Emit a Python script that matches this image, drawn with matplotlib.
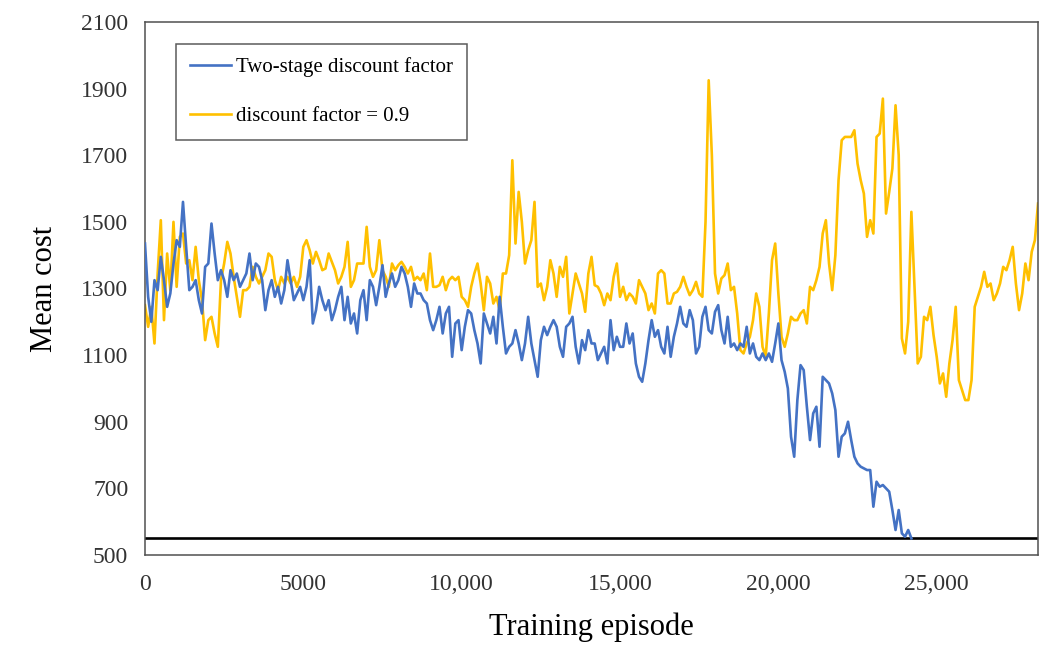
import numpy as np
import matplotlib
matplotlib.use("Agg")
import matplotlib.pyplot as plt

plt.rcParams['font.family'] = ['Liberation Serif', 'DejaVu Serif']

# sampled every 100 training episodes
step = 100
two_stage = [
    1435, 1275, 1200, 1325, 1295, 1395, 1325, 1245, 1285, 1375,
    1445, 1425, 1560, 1425, 1295, 1305, 1325, 1265, 1225, 1365,
    1375, 1495, 1405, 1325, 1355, 1325, 1275, 1355, 1325, 1345,
    1305, 1325, 1345, 1405, 1325, 1375, 1365, 1325, 1235, 1295,
    1325, 1275, 1305, 1255, 1295, 1385, 1325, 1265, 1285,
    1305, 1265, 1305, 1385, 1195, 1235, 1305, 1265, 1235, 1265,
    1205, 1235, 1275, 1305, 1205, 1275, 1195, 1225, 1165, 1265,
    1295, 1205, 1325, 1305, 1250, 1305, 1370, 1275, 1315, 1345,
    1305, 1325, 1365, 1345, 1305, 1245, 1315, 1285, 1285, 1265,
    1255, 1205, 1175, 1205, 1245, 1165, 1225, 1245,
    1095, 1195, 1205, 1115, 1185, 1235, 1225, 1175, 1135, 1075,
    1225, 1195, 1165, 1215, 1135, 1275, 1185, 1105, 1125, 1135,
    1175, 1135, 1085, 1135, 1215, 1135, 1085, 1035, 1145, 1185,
    1160, 1185, 1205, 1185, 1125, 1095, 1185, 1195, 1215, 1125,
    1075, 1145, 1115, 1175, 1135, 1135, 1085,
    1105, 1125, 1075, 1205, 1115, 1155, 1125, 1125, 1195, 1135,
    1165, 1075, 1035, 1020, 1075, 1145, 1205, 1155, 1175, 1125,
    1105, 1185, 1095, 1155, 1195, 1245, 1195, 1185, 1235, 1205,
    1105, 1125, 1215, 1245, 1175, 1165, 1230, 1250, 1175, 1135,
    1215, 1125, 1135, 1115, 1135, 1125, 1185,
    1105, 1135, 1095, 1085, 1105, 1085, 1105, 1080, 1135, 1195,
    1085, 1050, 1000, 855, 795, 965, 1070, 1055, 945, 845,
    925, 945, 825, 1035, 1025, 1015, 985, 935, 795, 855,
    865, 900, 845, 795, 775, 765, 760, 755, 755, 645,
    720, 705, 710, 700, 690, 635, 575, 635, 565, 555,
    575, 550,
]
gamma_09 = [
    1250, 1185, 1245, 1135, 1345, 1505, 1205, 1405, 1295, 1500,
    1305, 1455, 1465, 1375, 1385, 1325, 1425, 1325, 1265, 1145,
    1205, 1215, 1165, 1125, 1325, 1375, 1440, 1405, 1335, 1275,
    1215, 1295, 1295, 1305, 1365, 1335, 1315, 1335, 1355, 1405,
    1395, 1325, 1295, 1335, 1315, 1335, 1315, 1335, 1305,
    1335, 1425, 1445, 1415, 1375, 1410, 1385, 1355, 1360, 1405,
    1380, 1355, 1315, 1335, 1365, 1440, 1305, 1325, 1375, 1375,
    1375, 1485, 1365, 1335, 1355, 1445, 1355, 1335, 1305, 1375,
    1355, 1370, 1380, 1365, 1345, 1365, 1325, 1335, 1325, 1345,
    1295, 1405, 1305, 1305, 1310, 1335, 1295, 1325,
    1335, 1325, 1335, 1275, 1265, 1245, 1305, 1345, 1375, 1315,
    1235, 1335, 1315, 1255, 1275, 1235, 1345, 1345, 1400, 1685,
    1435, 1590, 1500, 1375, 1415, 1445, 1560, 1305, 1315, 1265,
    1305, 1385, 1345, 1275, 1365, 1335, 1395, 1225, 1285, 1345,
    1315, 1285, 1230, 1345, 1395, 1310, 1305,
    1285, 1250, 1285, 1265, 1335, 1375, 1275, 1305, 1265, 1285,
    1275, 1255, 1325, 1305, 1285, 1235, 1255, 1225, 1345, 1355,
    1345, 1255, 1255, 1285, 1290, 1305, 1335, 1305, 1280, 1295,
    1320, 1285, 1275, 1500, 1925, 1700, 1345, 1285, 1330, 1340,
    1375, 1295, 1305, 1225, 1115, 1105, 1135,
    1155, 1205, 1285, 1245, 1125, 1095, 1225, 1385, 1435, 1285,
    1155, 1125, 1165, 1215, 1205, 1205, 1225, 1235, 1195, 1305,
    1295, 1325, 1365, 1465, 1505, 1375, 1295, 1400, 1625, 1745,
    1755, 1755, 1755, 1775, 1675, 1625, 1585, 1455, 1505, 1465,
    1755, 1765, 1870, 1525, 1590, 1660,
    1850, 1700, 1150, 1105, 1200, 1530, 1305, 1075, 1095, 1215,
    1205, 1245, 1160, 1095, 1015, 1045, 975, 1075, 1145, 1245,
    1025, 995, 965, 965, 1025, 1245, 1275, 1305, 1350, 1305,
    1315, 1265, 1285, 1315, 1365, 1355, 1385, 1425, 1315, 1235,
    1285, 1375, 1325, 1410, 1445, 1555,
]
target = 550
x_ticks = [0, 5000, 10000, 15000, 20000, 25000]
x_labels = ['0', '5000', '10,000', '15,000', '20,000', '25,000']
y_ticks = [500, 700, 900, 1100, 1300, 1500, 1700, 1900, 2100]

ep_blue = np.arange(len(two_stage)) * step
ep_orange = np.arange(len(gamma_09)) * step

fig = plt.figure(figsize=(10.46, 6.47), dpi=100)
ax = fig.add_axes([0.1386, 0.1422, 0.8538, 0.8238])

ax.axhline(target, color='black', lw=1.9, zorder=1)
ax.plot(ep_orange, gamma_09, color='#FFC000', lw=1.9, label='discount factor = 0.9', zorder=2)
ax.plot(ep_blue, two_stage, color='#4472C4', lw=1.9, label='Two-stage discount factor', zorder=3)

ax.set_xlim(0, 28200)
ax.set_ylim(500, 2100)
ax.set_xticks(x_ticks)
ax.set_xticklabels(x_labels)
ax.set_yticks(y_ticks)
ax.tick_params(axis='both', length=0, labelsize=17, colors='#333333')
ax.tick_params(axis='x', pad=14)
ax.tick_params(axis='y', pad=12)
for s in ax.spines.values():
    s.set_color('#505050')
    s.set_linewidth(1.1)

ax.set_xlabel('Training episode', fontsize=22, labelpad=12)
ax.set_ylabel('Mean cost', fontsize=22, labelpad=16)

h, l = ax.get_legend_handles_labels()
leg = ax.legend(h[::-1], l[::-1], loc='upper left', bbox_to_anchor=(0.0347, 0.9587),
                borderaxespad=0, fontsize=15, frameon=True, fancybox=False,
                edgecolor='#333333', handlelength=2.0, handletextpad=0.25,
                labelspacing=1.4, borderpad=0.65)
leg.get_frame().set_linewidth(1.1)

fig.savefig('out.png', dpi=100)
